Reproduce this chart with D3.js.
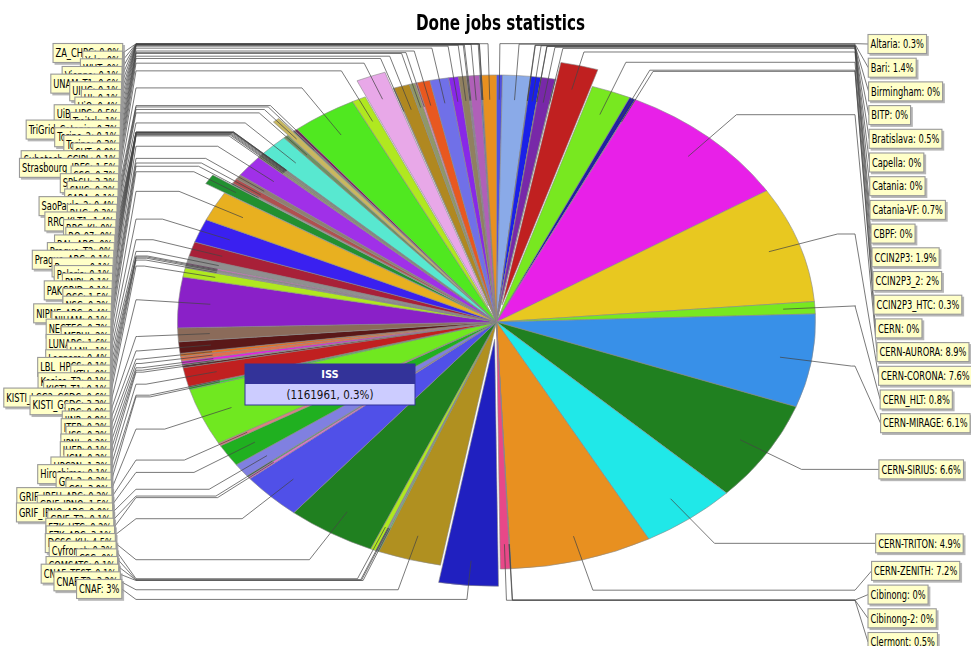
<!DOCTYPE html>
<html><head><meta charset="utf-8">
<script src="https://cdn.jsdelivr.net/npm/d3@7"></script>
<style>html,body{margin:0;padding:0;background:#fff}svg{display:block;filter:blur(0.3px)}
text{font-family:"DejaVu Sans Condensed","DejaVu Sans",sans-serif}</style></head>
<body><svg id="c" width="971" height="646"></svg>
<script>
const chartTitle = "Done jobs statistics";
const siteNames = ["Altaria","Bari","Birmingham","BITP","Bratislava","Capella","Catania","Catania-VF","CBPF","CCIN2P3","CCIN2P3_2","CCIN2P3_HTC","CERN","CERN-AURORA","CERN-CORONA","CERN_HLT","CERN-MIRAGE","CERN-SIRIUS","CERN-TRITON","CERN-ZENITH","Cibinong","Cibinong-2","Clermont",
"CNAF","CNAF-T2","CNAF_TEST","COMSATS","CSC","Cyfronet","DCSC_KU","FZK_ABC","FZK_HTC","GRIF_T2","GRIF_IPNO_ABC","GRIF_IPNO","GRIF_IRFU_ABC","GSI","GSI_2","Hiroshima","HPC2N","ICM","IHEP","IPNL","ISS","ITEP","JINR","JRC","KISTI_GSDC","KISTI_LCG2_GSDC","KISTI_T1","Kosice_T2","KTH","LBL_HPCS","Legnaro","LLNL","LUNARC","MEPHI","NECTEC","NIHAM","NIPNE_ABC","NSC","OSC","PAKGRID","PNPI","Polaris","Poznan","Prague_ABC","Prague_T2","RAL_ABC","RO-07","RRC_KI","RRC-KI-T1","RUG","SaoPaulo_2","SARA","SNIC","SPbSU","SSC","Strasbourg_IRES","Subatech_CCIPL","SUT","Torino","Torino_2","TriGrid_Catania","Troitsk","UiB_HPC","UiO","UJ","UIUC","UNAM_T1","Vienna","WUT","Yale","ZA_CHPC"];
const siteValues = [0.3,1.4,0.02,0.01,0.5,0.01,0.01,0.7,0.01,1.9,2,0.3,0.02,8.9,7.6,0.8,6.1,6.6,4.9,7.2,0.02,0.01,0.5,
3,3.2,0.08,0.06,0.03,0.28,4.5,3.1,0.15,0.08,0.9,1.45,0.2,3.75,0.15,0.05,1.25,0.15,0.08,0.2,0.3,0.2,0.75,0.9,3.3,0.6,0.1,0.12,0.02,0.1,0.44,0.95,1.55,1.95,0.65,0.1,0.35,0.3,1.45,0.1,0.05,0.05,0.05,0.05,0.02,0.02,0.01,0.01,1.44,0.25,0.35,0.1,0.15,3.3,0.7,1.5,0.05,0.8,0.3,0.1,0.65,0.95,0.5,0.4,0.05,0.05,0.55,0.08,0.01,0.01,0.75];
const siteColors = ["#5050e0","#8aaae8","#808080","#909090","#1a20e8","#909090","#808080","#7828a8","#909090","#c02020","#78e820","#2020a0","#808080","#e820e8","#e8c820","#78e820","#3890e8","#208020","#20e8e8","#e89020","#909090","#808080","#e84888",
"#2020c0","#b09020","#60c060","#9090d0","#a0a0a0","#b0e820","#208020","#5050e8","#e070d0","#40a060","#8080e0","#20b020","#e08080","#70e820","#30e030","#707070","#c02020","#602020","#909090","#e820e0","#e07050","#e87020","#5a1818","#8b6b5a","#8a20c8","#b0e820","#a0a0a0","#909090","#808080","#e070d0","#909090","#a82038","#3a20f0","#e8b020","#229030","#909090","#b05050","#908070","#a030e8","#909070","#80d020","#806040","#909090","#708030","#909090","#808080","#909090","#808080","#58e8d0","#709060","#c8b860","#708868","#802060","#50e820","#b0e820","#e8a8e8","#909090","#b08820","#909868","#e890c0","#e85820","#7070e8","#8828e8","#908060","#a060a0","#8070b0","#b060b8","#5060d0","#909090","#808080","#e89020"];
const explodedSites = ["CCIN2P3","CNAF","NECTEC","Strasbourg_IRES","SaoPaulo_2"];
const tooltipSite = "ISS", tooltipJobs = 1161961;

const cx=496.5, cy=322, rx=319, ry=247, explode=0.07, squeeze=0.8;
const svg=d3.select("#c");
const pct=d3.format(".1~f");
const data=siteNames.map((n,i)=>({name:n,value:siteValues[i],color:siteColors[i]}));
const arcs=d3.pie().sort(null).value(d=>d.value)(data);
const total=d3.sum(siteValues);
const arc=d3.arc().innerRadius(0).outerRadius(rx);
const mid=a=>(a.startAngle+a.endAngle)/2;
const off=a=>explodedSites.includes(a.data.name)?explode:0;
const ellipse=(a,r)=>[cx+rx*r*Math.sin(mid(a)),cy-ry*r*Math.cos(mid(a))];
function narrow(t,f){const n=t.node();const l=n.getComputedTextLength()*f;t.attr("textLength",l).attr("lengthAdjust","spacingAndGlyphs");return l;}

const title=svg.append("text").attr("x",500.5).attr("y",30).attr("text-anchor","middle")
  .attr("font-size",20.5).attr("font-weight","bold").attr("fill","#000").text(chartTitle);
narrow(title,0.825);

svg.append("g").selectAll("path").data(arcs).join("path")
  .attr("d",arc).attr("fill",d=>d.data.color)
  .attr("stroke","#888").attr("stroke-width",0.6).attr("vector-effect","non-scaling-stroke")
  .attr("transform",d=>{const e=off(d);return `translate(${cx+rx*e*Math.sin(mid(d))},${cy-ry*e*Math.cos(mid(d))}) scale(1,${ry/rx})`;});

// label layout
const right=arcs.filter(a=>mid(a)<Math.PI), left=arcs.filter(a=>mid(a)>=Math.PI);
const rGap=23.7, rTop=44, rBottom=642;
const rY=right.map(a=>ellipse(a,1.127)[1]);
rY.forEach((y,i)=>{rY[i]=Math.max(y,i?rY[i-1]+rGap:rTop);});
for(let i=rY.length-1;i>=0;i--) rY[i]=Math.min(rY[i],i==rY.length-1?rBottom:rY[i+1]-rGap);
const lY=d3.scaleLinear().domain([0,left.length-1]).range([589,53]);
const rEdge=d3.scaleLinear().domain([44,210,305,353,412,467,541,595,642]).range([868,870,874,877,881,879,876,868,868]);
const lEdge=d3.scaleLinear().domain([44,140,200,270,320,400,480,520,540,570,590]).range([123,120,118,113,111,110,111,113,115,118,122]);

const items=[
 ...right.map((a,i)=>({a,y:rY[i],side:1,edge:rEdge(rY[i])})),
 ...left.map((a,i)=>({a,y:lY(i),side:-1,edge:lEdge(lY(i))}))];

const lines=svg.append("g").attr("fill","none").attr("stroke","#444").attr("stroke-width",0.9).attr("stroke-opacity",0.8);
const line=d3.line();
items.forEach(it=>{
  const e=off(it.a);
  const p=[cx+rx*(0.9+e)*Math.sin(mid(it.a)),cy-ry*(0.9+e)*Math.cos(mid(it.a))];
  const q=ellipse(it.a,1.127);
  const hx=it.side>0?855:136;
  lines.append("path").attr("d",line([p,q,[hx,q[1]],[it.edge,it.y]]));
});

const boxes=svg.append("g");
items.filter(d=>d.side>0).forEach(drawLabel);
items.filter(d=>d.side<0).reverse().forEach(drawLabel);
function drawLabel(it){
  const g=boxes.append("g");
  const s=it.a.data.name+": "+pct(it.a.data.value/total*100)+"%";
  const shadow=g.append("rect"), box=g.append("rect");
  const t=g.append("text").attr("font-size",11.5).attr("fill","#000").text(s).attr("y",it.y+4.2);
  const w=narrow(t,squeeze)+5, h=19;
  const x=it.side>0?it.edge:it.edge-w;
  t.attr("x",x+2.5);
  box.attr("x",x).attr("y",it.y-h/2).attr("width",w).attr("height",h).attr("fill","#ffffc8").attr("stroke","#999").attr("stroke-width",1.1);
  shadow.attr("x",x+1.5).attr("y",it.y-h/2+1.5).attr("width",w+0.8).attr("height",h+0.8).attr("fill","#999").attr("opacity",0.7);
}

// tooltip
const tipArc=arcs.find(a=>a.data.name===tooltipSite);
const tip=svg.append("g").attr("transform","translate(245,364)");
tip.append("rect").attr("width",170).attr("height",41).attr("fill","#ccccff").attr("stroke","#333399").attr("stroke-width",1);
tip.append("rect").attr("width",170).attr("height",20).attr("fill","#333399");
tip.append("text").attr("x",85).attr("y",14).attr("text-anchor","middle").attr("font-size",11).attr("font-weight","bold").attr("fill","#fff").text(tooltipSite);
tip.append("text").attr("x",85).attr("y",35).attr("text-anchor","middle").attr("font-size",11.5).attr("fill","#111")
  .text("("+tooltipJobs+", "+pct(tipArc.data.value/total*100)+"%)");
</script></body></html>
